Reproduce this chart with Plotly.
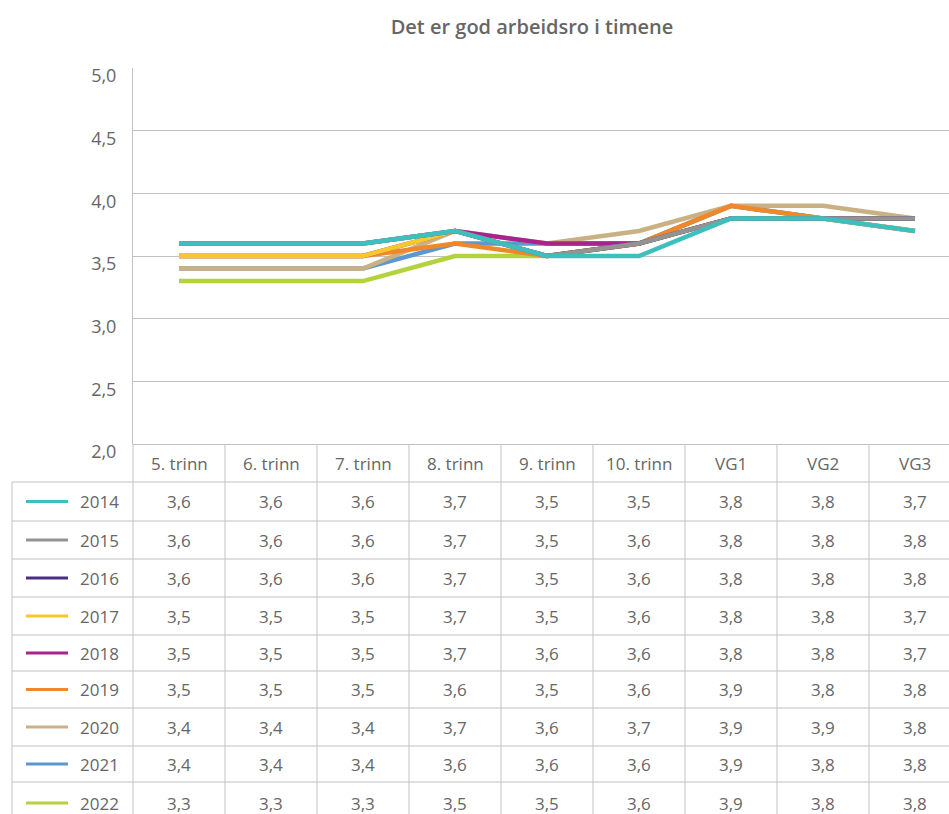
import plotly.graph_objects as go

# ---------------- data ----------------
categories = ["5. trinn", "6. trinn", "7. trinn", "8. trinn", "9. trinn",
              "10. trinn", "VG1", "VG2", "VG3"]
years = ["2014", "2015", "2016", "2017", "2018", "2019", "2020", "2021", "2022"]
v2014 = [3.6, 3.6, 3.6, 3.7, 3.5, 3.5, 3.8, 3.8, 3.7]
v2015 = [3.6, 3.6, 3.6, 3.7, 3.5, 3.6, 3.8, 3.8, 3.8]
v2016 = [3.6, 3.6, 3.6, 3.7, 3.5, 3.6, 3.8, 3.8, 3.8]
v2017 = [3.5, 3.5, 3.5, 3.7, 3.5, 3.6, 3.8, 3.8, 3.7]
v2018 = [3.5, 3.5, 3.5, 3.7, 3.6, 3.6, 3.8, 3.8, 3.7]
v2019 = [3.5, 3.5, 3.5, 3.6, 3.5, 3.6, 3.9, 3.8, 3.8]
v2020 = [3.4, 3.4, 3.4, 3.7, 3.6, 3.7, 3.9, 3.9, 3.8]
v2021 = [3.4, 3.4, 3.4, 3.6, 3.6, 3.6, 3.9, 3.8, 3.8]
v2022 = [3.3, 3.3, 3.3, 3.5, 3.5, 3.6, 3.9, 3.8, 3.8]
series = [v2014, v2015, v2016, v2017, v2018, v2019, v2020, v2021, v2022]
colors = ["#3dbfbd", "#939393", "#4a2f85", "#f6c82b", "#a8238e",
          "#f0872a", "#c9b183", "#5b97d1", "#b3d23c"]
title = "Det er god arbeidsro i timene"

# ---------------- layout geometry (window pixels) ----------------
W, H = 949, 814
PLOT_LEFT, PLOT_TOP, PLOT_BOTTOM = 133, 68, 444
ML, MT = PLOT_LEFT, PLOT_TOP
MB = H - PLOT_BOTTOM
PH = PLOT_BOTTOM - PLOT_TOP
PW = W - ML
COLW = 92.0
TXT = "#666666"
GRID = "#c2c2c2"
FONT = "Open Sans"


def py(p):  # pixel y -> paper y
    return (PLOT_BOTTOM - p) / PH


def px(p):  # pixel x -> paper x
    return (p - PLOT_LEFT) / PW


fig = go.Figure()

# lines: later years drawn first so 2014 ends on top
for name, vals, col in reversed(list(zip(years, series, colors))):
    fig.add_trace(go.Scatter(
        x=categories, y=vals, mode="lines", name=name,
        line=dict(color=col, width=4.5), showlegend=False,
        hovertemplate="%{x}: %{y:.1f}<extra>" + name + "</extra>"))

xmax = PW / COLW - 0.5

shapes = []
annotations = []

# table geometry
header_top, header_bot = 444, 482
row_lines = [482, 521, 559, 597, 635, 671, 708, 746, 782]
row_centers = [(row_lines[i] + (row_lines[i + 1] if i + 1 < len(row_lines) else 824)) / 2
               for i in range(len(row_lines))]

line_style = dict(color=GRID, width=1)
for r in row_lines:
    shapes.append(dict(type="line", xref="paper", yref="paper",
                       x0=px(12), x1=1, y0=py(r), y1=py(r), line=line_style))
shapes.append(dict(type="line", xref="paper", yref="paper",
                   x0=px(12), x1=px(12), y0=py(row_lines[0]), y1=py(H + 20), line=line_style))
for k in range(len(categories)):
    xx = PLOT_LEFT + COLW * k
    shapes.append(dict(type="line", xref="paper", yref="paper",
                       x0=px(xx), x1=px(xx), y0=py(header_top), y1=py(H + 20), line=line_style))

# header labels
for i, c in enumerate(categories):
    annotations.append(dict(x=i, xref="x", y=py((header_top + header_bot) / 2), yref="paper",
                            text=c, showarrow=False, xanchor="center", yanchor="middle",
                            font=dict(family=FONT, size=17, color=TXT)))

# data rows
for r, (name, vals, col) in enumerate(zip(years, series, colors)):
    yc = row_centers[r]
    shapes.append(dict(type="line", xref="paper", yref="paper",
                       x0=px(26), x1=px(68), y0=py(yc), y1=py(yc),
                       line=dict(color=col, width=3)))
    annotations.append(dict(x=px(78), xref="paper", y=py(yc), yref="paper",
                            text=name, showarrow=False, xanchor="left", yanchor="middle",
                            font=dict(family=FONT, size=17, color=TXT)))
    for i, v in enumerate(vals):
        annotations.append(dict(x=i, xref="x", y=py(yc), yref="paper",
                                text=f"{v:.1f}".replace(".", ","), showarrow=False,
                                xanchor="center", yanchor="middle",
                                font=dict(family=FONT, size=17, color=TXT)))

fig.update_layout(
    width=W, height=H,
    margin=dict(l=ML, r=0, t=MT, b=MB, autoexpand=False),
    paper_bgcolor="white", plot_bgcolor="white",
    separators=", ",
    font=dict(family=FONT, color=TXT),
    title=dict(text=title, x=532 / W, xref="container", xanchor="center",
               y=1 - 27 / H, yref="container", yanchor="middle",
               font=dict(family=FONT, size=20, color=TXT, weight=600),
               automargin=False),
    xaxis=dict(type="category", range=[-0.5, xmax], showgrid=False,
               showticklabels=False, showline=True, linecolor=GRID, linewidth=1,
               zeroline=False, fixedrange=True, automargin=False),
    yaxis=dict(range=[2, 5], dtick=0.5, tick0=2, tickformat=".1f",
               showgrid=True, gridcolor=GRID, gridwidth=1,
               showline=True, linecolor=GRID, linewidth=1, mirror=False,
               ticks="outside", ticklen=12, tickcolor="rgba(0,0,0,0)",
               ticklabelshift=8,
               tickfont=dict(family=FONT, size=18, color=TXT), zeroline=False,
               fixedrange=True, automargin=False),
    shapes=shapes,
    annotations=annotations,
)

fig.write_html("out.html",
               config={"displayModeBar": False},
               post_script="document.body.style.margin='0';document.body.style.overflow='hidden';")
